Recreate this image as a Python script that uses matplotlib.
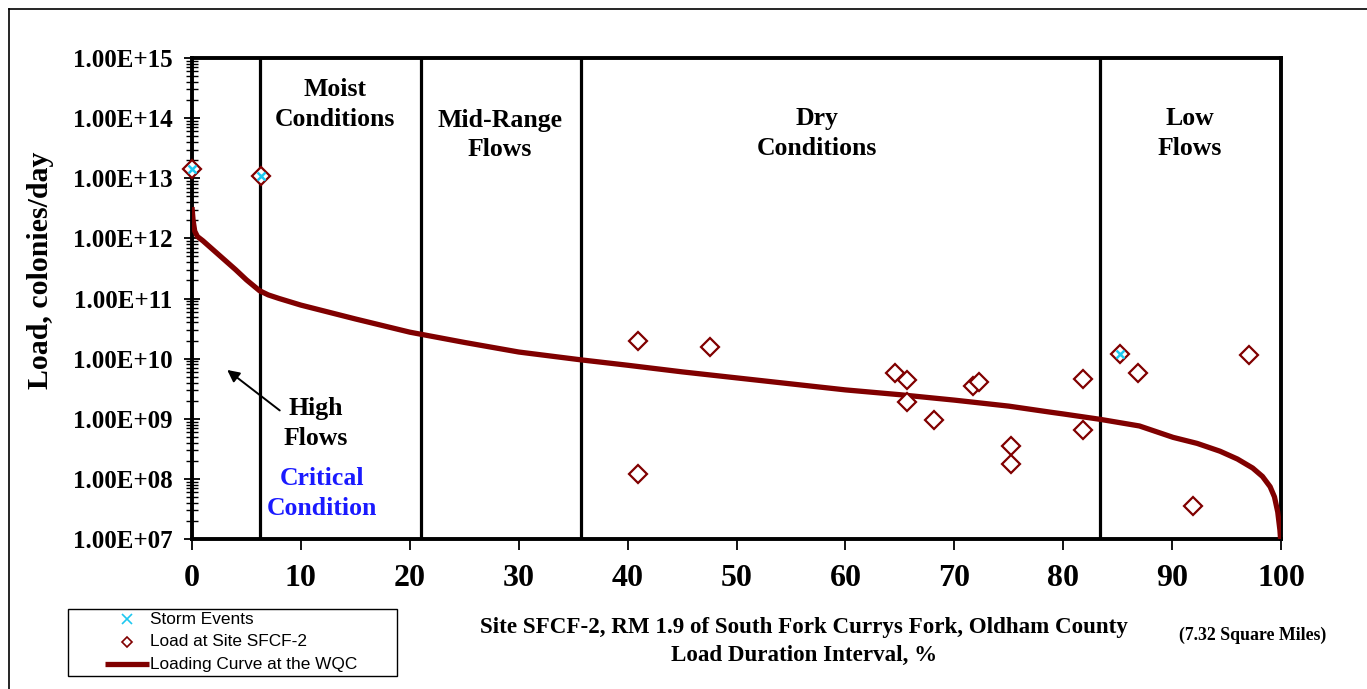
import numpy as np
import matplotlib
matplotlib.use("Agg")
import matplotlib.pyplot as plt
from matplotlib.lines import Line2D
from matplotlib.patches import Rectangle

# ---- data ----
curve_x = [0.0, 0.1, 0.25, 0.5, 1.0, 2.0, 3.0, 4.0, 5.0, 6.2, 7.0, 8.0, 10, 15, 20, 25, 30,
           35.7, 40, 45, 50, 55, 60, 65, 70, 75, 78.8, 80, 83.4, 87.0, 90.1, 92.3, 94.4,
           96.0, 97.4, 98.3, 99.0, 99.4, 99.7, 99.9, 100]
curve_logy = [12.52, 12.3, 12.12, 12.03, 11.96, 11.80, 11.64, 11.48, 11.31, 11.13, 11.06,
              11.0, 10.89, 10.66, 10.44, 10.27, 10.11, 9.98, 9.89, 9.78, 9.68, 9.58, 9.48,
              9.40, 9.31, 9.21, 9.11, 9.08, 8.99, 8.88, 8.69, 8.59, 8.46, 8.33, 8.18, 8.04,
              7.87, 7.7, 7.45, 7.15, 6.9]
curve_y = [10 ** v for v in curve_logy]

load_x = [0.0, 6.3, 41.0, 41.0, 47.6, 64.6, 65.7, 65.7, 68.1, 71.7, 72.3, 75.2, 75.2,
          81.8, 81.8, 85.2, 86.9, 91.9, 97.1]
load_y = [1.4e13, 1.1e13, 1.95e10, 1.2e8, 1.55e10, 5.8e9, 4.4e9, 1.9e9, 9.6e8, 3.5e9,
          4.1e9, 3.5e8, 1.8e8, 4.6e9, 6.5e8, 1.2e10, 5.8e9, 3.6e7, 1.14e10]

storm_x = [0.0, 6.3, 85.2]
storm_y = [1.4e13, 1.1e13, 1.2e10]

zone_bounds = [6.2, 21.0, 35.7, 83.4]
y_ticks = [1e7, 1e8, 1e9, 1e10, 1e11, 1e12, 1e13, 1e14, 1e15]
y_tick_labels = ["1.00E+07", "1.00E+08", "1.00E+09", "1.00E+10", "1.00E+11",
                 "1.00E+12", "1.00E+13", "1.00E+14", "1.00E+15"]
x_ticks = [0, 10, 20, 30, 40, 50, 60, 70, 80, 90, 100]
legend_labels = ['Storm Events', 'Load at Site SFCF-2', 'Loading Curve at the WQC']

plt.rcParams['font.family'] = ['Liberation Serif', 'DejaVu Serif']
plt.rcParams['font.weight'] = 'bold'

W, H = 1367, 689
fig = plt.figure(figsize=(W / 100, H / 100), dpi=100)
ax = fig.add_axes([192 / W, 1 - 539 / H, (1281 - 192) / W, (539 - 58) / H])

dark_red = '#800000'
cyan = '#1ec8f0'
ax.plot(curve_x, curve_y, color=dark_red, lw=3.8, solid_capstyle='butt', zorder=3)
ax.plot(load_x, load_y, linestyle='none', marker='D', markersize=9,
        markerfacecolor='white', markeredgecolor=dark_red, markeredgewidth=1.6,
        zorder=4, clip_on=False)
ax.plot(storm_x, storm_y, linestyle='none', marker='x', markersize=6,
        color=cyan, markeredgewidth=1.8, zorder=5, clip_on=False)

for b in zone_bounds:
    ax.axvline(b, color='black', lw=2.3, zorder=2)

ax.set_yscale('log')
ax.set_xlim(0, 100)
ax.set_ylim(1e7, 1e15)
ax.set_yticks(y_ticks)
ax.set_yticklabels(y_tick_labels, fontsize=18, fontweight='bold')
ax.set_xticks(x_ticks)
ax.set_xticklabels([str(t) for t in x_ticks], fontsize=23, fontweight='bold')
ax.yaxis.set_minor_locator(matplotlib.ticker.LogLocator(base=10, subs=np.arange(2, 10), numticks=20))
ax.yaxis.set_minor_formatter(matplotlib.ticker.NullFormatter())
ax.tick_params(axis='y', which='major', direction='inout', length=12, width=1.3, pad=8)
ax.tick_params(axis='y', which='minor', direction='inout', length=8, width=1.0)
ax.tick_params(axis='x', which='major', direction='out', length=8, width=1.3, pad=10)
for s in ax.spines.values():
    s.set_linewidth(2.8)
    s.set_color('black')

ax.set_ylabel('Load, colonies/day', fontsize=21.5, fontweight='bold')
ax.yaxis.set_label_coords(-0.1265, 0.559)

# zone labels
tk = dict(ha='center', va='center', fontsize=18.5, fontweight='bold', linespacing=1.38)
ax.text(13.1, 10 ** 14.22, 'Moist\nConditions', **tk)
ax.text(28.3, 10 ** 13.72, 'Mid-Range\nFlows', **tk)
ax.text(57.4, 10 ** 13.75, 'Dry\nConditions', **tk)
ax.text(91.6, 10 ** 13.75, 'Low\nFlows', **tk)
ax.text(11.4, 10 ** 8.92, 'High\nFlows', **tk)
ax.text(11.9, 10 ** 7.76, 'Critical\nCondition', color='#1a1aff', **tk)
ax.annotate('', xy=(3.03, 10 ** 9.84), xytext=(8.26, 10 ** 9.11),
            arrowprops=dict(arrowstyle='-|>', color='black', lw=1.4, mutation_scale=18))

# bottom titles
fig.text(804 / W, 1 - 627 / H, 'Site SFCF-2, RM 1.9 of South Fork Currys Fork, Oldham County',
         ha='center', va='center', fontsize=16.6, fontweight='bold')
fig.text(804 / W, 1 - 655 / H, 'Load Duration Interval, %',
         ha='center', va='center', fontsize=16.6, fontweight='bold')
fig.text(1253 / W, 1 - 635 / H, '(7.32 Square Miles)',
         ha='center', va='center', fontsize=12.8, fontweight='bold')

# legend (drawn by hand to match the layout)
fig.add_artist(Rectangle((68 / W, 1 - 676 / H), (397 - 68) / W, (676 - 609) / H,
                         transform=fig.transFigure, facecolor='white', edgecolor='black',
                         lw=1.0, zorder=10))
rows = [619, 642, 664]
fig.add_artist(Line2D([127 / W], [1 - rows[0] / H], transform=fig.transFigure,
                      linestyle='none', marker='x', markersize=7, color=cyan,
                      markeredgewidth=1.2, zorder=11))
fig.add_artist(Line2D([127 / W], [1 - rows[1] / H], transform=fig.transFigure,
                      linestyle='none', marker='D', markersize=5.5, markerfacecolor='white',
                      markeredgecolor=dark_red, markeredgewidth=1.2, zorder=11))
fig.add_artist(Line2D([105 / W, 149 / W], [1 - rows[2] / H, 1 - rows[2] / H],
                      transform=fig.transFigure, color=dark_red, lw=3.8,
                      solid_capstyle='butt', zorder=11))
for lab, r in zip(legend_labels, rows):
    fig.text(150 / W, 1 - r / H, lab, ha='left', va='center', fontsize=12.4,
             family='Liberation Sans', fontweight='normal', zorder=12)

# outer border lines (top and left)
fig.add_artist(Line2D([9 / W, 1.0], [1 - 9 / H, 1 - 9 / H], color='black', lw=1.2,
                      transform=fig.transFigure))
fig.add_artist(Line2D([9 / W, 9 / W], [0, 1 - 9 / H], color='black', lw=1.2,
                      transform=fig.transFigure))

fig.savefig('out.png', dpi=100)
